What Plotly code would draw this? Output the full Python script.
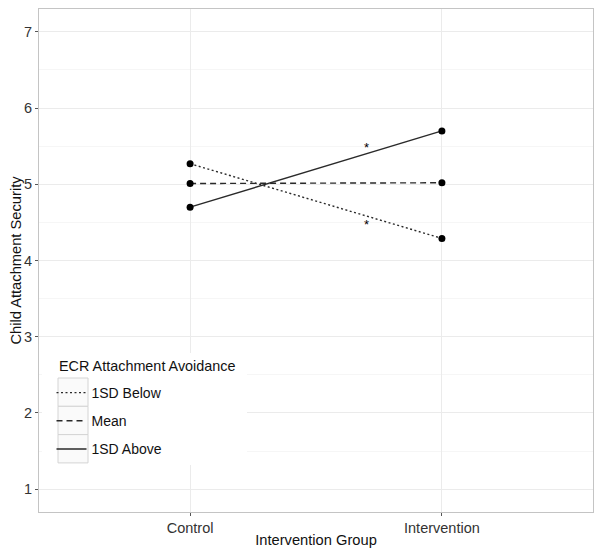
import plotly.graph_objects as go

groups = ["Control", "Intervention"]
series_names = ["1SD Below", "Mean", "1SD Above"]
below_vals = [5.27, 4.29]
mean_vals = [5.01, 5.02]
above_vals = [4.70, 5.70]
star_x = [1.70, 1.70]
star_y = [5.48, 4.47]
y_ticks = [1, 2, 3, 4, 5, 6, 7]
legend_title = "ECR Attachment Avoidance"

x_pos = [i + 1 for i in range(len(groups))]
series = [below_vals, mean_vals, above_vals]
dashes = ["2px,2.5px", "6px,4px", "solid"]

# page body has an 8px margin; figure sized so the plot area lands where
# the reference puts it (page x 39..593, y 9..512)
OFF = 8
W, H = 588, 540
ML, MR, MT, MB = 31, 3, 1, 36
PW, PH = W - ML - MR, H - MT - MB


def px_x(p):  # page pixel -> paper coordinate
    return (p - OFF - ML) / PW


def px_y(p):
    return (H - MB - (p - OFF)) / PH


fig = go.Figure()
for name, vals, d in zip(series_names, series, dashes):
    fig.add_trace(go.Scatter(
        x=x_pos, y=vals, mode="lines", name=name, legendgroup=name,
        line=dict(color="#2a2a2a", width=1.4, dash=d),
    ))
for name, vals in zip(series_names, series):
    fig.add_trace(go.Scatter(
        x=x_pos, y=vals, mode="markers", showlegend=False, legendgroup=name,
        marker=dict(color="black", size=7),
    ))

for sx, sy in zip(star_x, star_y):
    fig.add_annotation(x=sx, y=sy, text="*", showarrow=False,
                       font=dict(size=13, color="black"))

# legend background + key boxes (ggplot style)
shapes = [dict(type="rect", xref="paper", yref="paper", layer="above",
               x0=px_x(42), x1=px_x(247), y0=px_y(465), y1=px_y(353),
               fillcolor="white", line=dict(width=0))]
for i in range(len(series_names)):
    top = 378 + i * 28.3
    shapes.append(dict(type="rect", xref="paper", yref="paper", layer="above",
                       x0=px_x(58), x1=px_x(88), y0=px_y(top + 28.3), y1=px_y(top),
                       fillcolor="#fafafa", line=dict(color="#d4d4d4", width=1)))
fig.update_layout(shapes=shapes)

fig.add_annotation(xref="paper", yref="paper", x=px_x(57), y=px_y(366),
                   xanchor="left", yanchor="middle", showarrow=False,
                   text=legend_title, font=dict(size=14.4, color="#111111"))

axis_common = dict(
    showline=True, linecolor="#c4c4c4", linewidth=1, mirror=True,
    ticks="outside", ticklen=3, tickcolor="#555555", tickwidth=1,
    gridcolor="#ebebeb", gridwidth=1, zeroline=False, automargin=False,
    tickfont=dict(size=14.5, color="#333333"),
    title_font=dict(size=14.7, color="#111111"),
)

fig.update_xaxes(
    range=[0.4, 2.6], tickvals=x_pos, ticktext=groups,
    title_text="Intervention Group", title_standoff=0, **axis_common,
)
fig.update_yaxes(
    range=[0.7, 7.3], tickvals=y_ticks,
    minor=dict(dtick=0.5, tick0=0.5, showgrid=True, gridcolor="#f6f6f6", ticks=""),
    title_text="Child Attachment Security", title_standoff=2, **axis_common,
)

fig.update_layout(
    width=W, height=H,
    margin=dict(l=ML, r=MR, t=MT, b=MB),
    paper_bgcolor="white", plot_bgcolor="white",
    font=dict(family="Liberation Sans, Arial, sans-serif", color="#111111"),
    showlegend=True,
    legend=dict(
        x=px_x(51.5), y=px_y(377), xanchor="left", yanchor="top",
        bgcolor="rgba(0,0,0,0)", borderwidth=0,
        font=dict(size=14, color="#111111"),
        tracegroupgap=7, itemwidth=30,
    ),
)

fig.write_html("out.html")
